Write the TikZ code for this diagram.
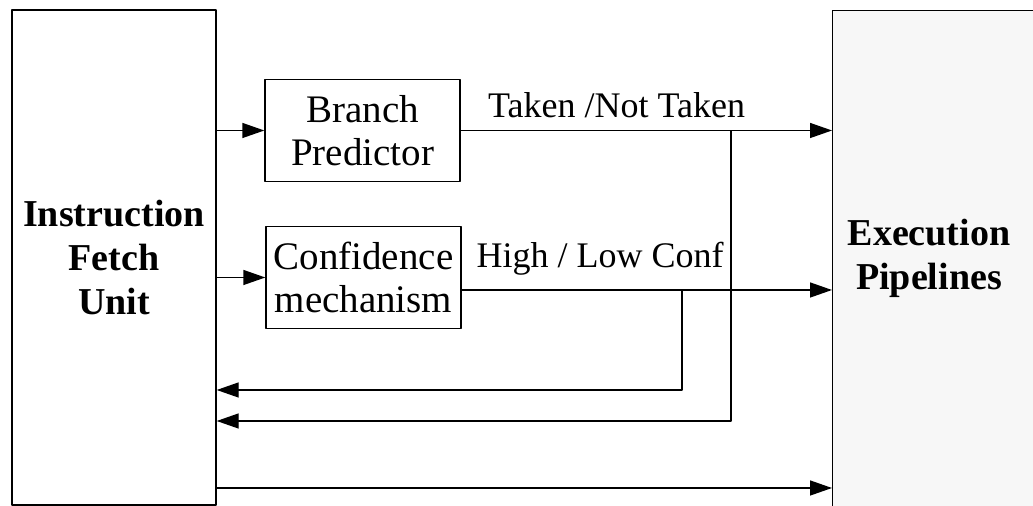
\documentclass[tikz,border=0pt]{standalone}
\usepackage{fontspec}
\setmainfont{Liberation Serif}
\usetikzlibrary{arrows.meta}
\begin{document}
\begin{tikzpicture}[>={Triangle[length=11pt,width=7.5pt]},x=0.5pt,y=0.5pt,line join=round,line width=0.7pt,
	unit/.style={draw,align=center,font=\fontsize{19pt}{22pt}\selectfont\bfseries},
	blk/.style={draw,align=center,minimum width=97.5pt,minimum height=51pt,inner sep=1pt,font=\fontsize{19.5pt}{21.5pt}\selectfont},
	lbl/.style={anchor=base,inner sep=0pt,font=\fontsize{18pt}{21.5pt}\selectfont}]
	\clip (0,0) rectangle (1033,506);
	\node[unit,minimum width=102pt,minimum height=247.5pt] (fetch) at (114,248.5) {Instruction\\Fetch\\Unit};
	\node[draw,fill=black!3,anchor=north west,minimum width=200pt,minimum height=300pt] (exec) at (832,496) {};
	\node[unit,draw=none] (exectxt) at (929,248) {Execution\\Pipelines};
	\node[blk] (branch) at (362.5,375.5) {Branch\\Predictor};
	\node[blk] (conf) at (363.5,228.5) {Confidence\\mechanism};
	\coordinate (confout) at (461,216);
	\coordinate (fb1) at (731,85);
	\coordinate (fb2) at (682,116);
	\coordinate (low) at (216,18);
	% forward paths
	\draw[->] (fetch.east|-branch) -- (branch);
	\draw[->] (fetch.east|-conf) -- (conf);
	\draw[->] (branch) -- (branch-|exec.west) node[lbl,pos=0.42,yshift=6.5pt] (taken) {Taken /Not Taken};
	\draw[->] (confout) -- (confout-|exec.west);
	\node[lbl] (conflbl) at (600,238) {High / Low Conf};
	\draw[->] (low) -- (low-|exec.west);
	% feedback
	\draw[->] (fb1|-branch) -- (fb1) -- (fb1-|fetch.east);
	\draw[->] (fb2|-confout) -- (fb2) -- (fb2-|fetch.east);
\end{tikzpicture}
\end{document}
